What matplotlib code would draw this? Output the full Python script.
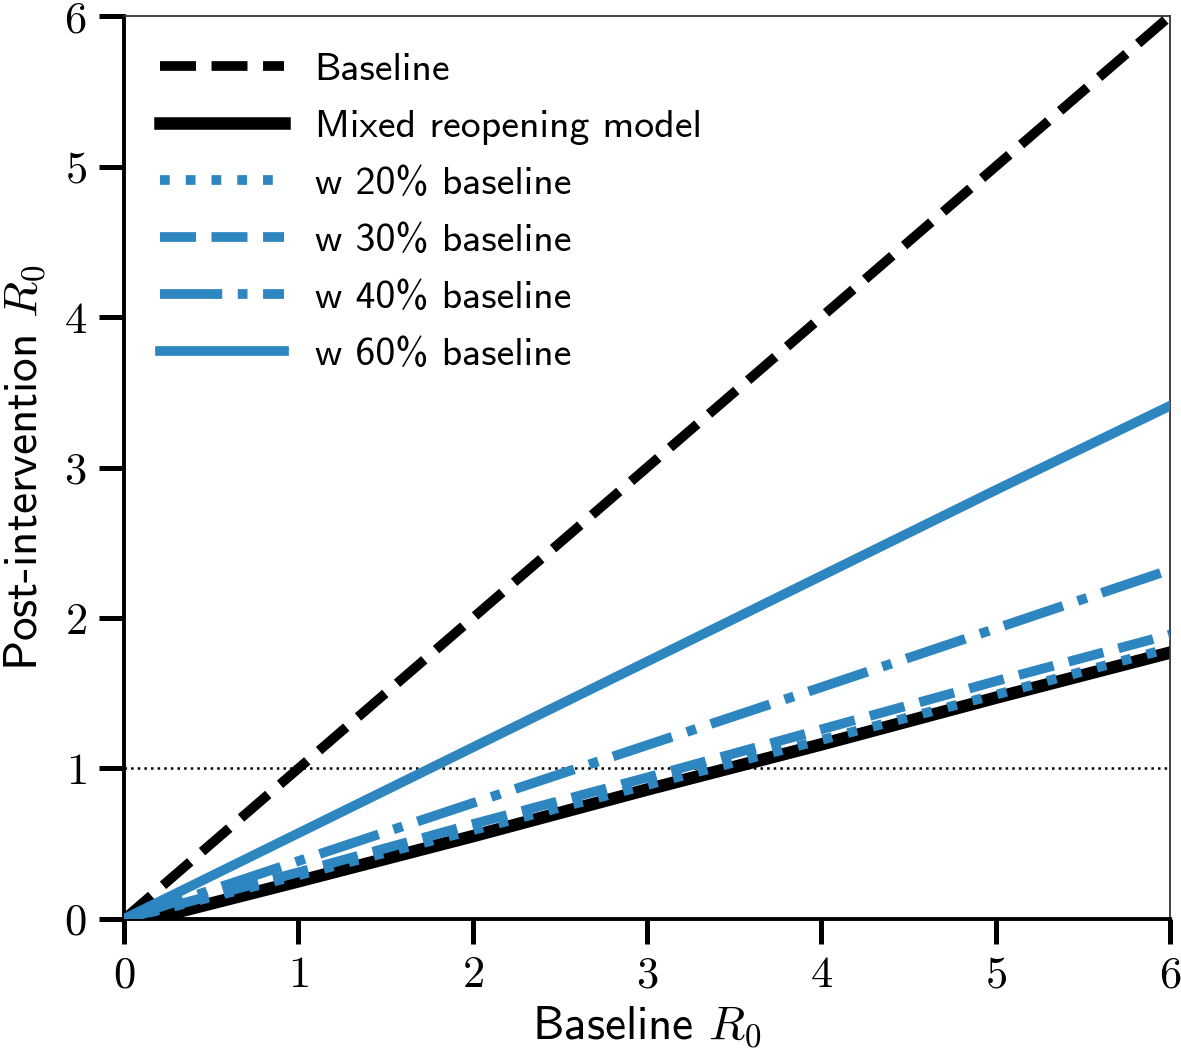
import matplotlib
matplotlib.use("Agg")
import matplotlib.pyplot as plt

matplotlib.rcParams["font.family"] = ["cmss10", "DejaVu Sans"]
matplotlib.rcParams["mathtext.fontset"] = "cm"
matplotlib.rcParams["axes.unicode_minus"] = False

# values (baseline R0 -> post-intervention R0)
r0 = [0, 1, 2, 3, 4, 5, 6]
baseline = [0, 1, 2, 3, 4, 5, 6]
mixed_x = [0, 0.15, 1, 2, 3, 4, 5, 6]
mixed = [0, 0, 0.25, 0.55, 0.86, 1.16, 1.47, 1.77]
w20 = [0, 0.29, 0.59, 0.89, 1.19, 1.49, 1.80]
w30 = [0, 0.31, 0.63, 0.94, 1.26, 1.58, 1.89]
w40 = [0, 0.385, 0.77, 1.155, 1.54, 1.93, 2.32]
w60 = [0, 0.57, 1.14, 1.71, 2.28, 2.85, 3.41]

ticks = [0, 1, 2, 3, 4, 5, 6]
blue = "#2e86c1"

fig = plt.figure(figsize=(11.81, 10.48), dpi=100)
ax = fig.add_axes([0.105, 0.1231, 0.8857, 0.8616])

ax.axhline(1, color="k", ls=":", lw=1.8, zorder=1)
ax.plot(r0, baseline, "k--", lw=7, label="Baseline", zorder=3)
ax.plot(mixed_x, mixed, "k-", lw=9, label="Mixed reopening model", zorder=2)
ax.plot(r0, w20, ":", color=blue, lw=7, label="w 20% baseline", zorder=4)
ax.plot(r0, w30, "--", color=blue, lw=7, label="w 30% baseline", zorder=4)
ax.plot(r0, w40, "-.", color=blue, lw=7, label="w 40% baseline", zorder=4)
ax.plot(r0, w60, "-", color=blue, lw=7, label="w 60% baseline", zorder=4)

ax.set_xlim(0, 6)
ax.set_ylim(0, 6)
ax.set_xticks(ticks)
ax.set_yticks(ticks)
ax.set_xticklabels(["$%d$" % t for t in ticks], fontsize=32)
ax.set_yticklabels(["$%d$" % t for t in ticks], fontsize=32)
ax.tick_params(length=18, width=3.6, direction="out", top=False, right=False)
ax.tick_params(axis="y", pad=9)
ax.tick_params(axis="x", pad=8)

for s in ["left", "bottom"]:
    ax.spines[s].set_linewidth(2.8)
    ax.spines[s].set_color("k")
for s in ["top", "right"]:
    ax.spines[s].set_linewidth(1.3)
    ax.spines[s].set_color("#333333")

ax.set_xlabel("Baseline $R_0$", fontsize=34, labelpad=6)
ax.set_ylabel("Post-intervention $R_0$", fontsize=34, labelpad=12)

ax.legend(loc="upper left", frameon=False, fontsize=28.7, handlelength=3.12,
          handletextpad=0.76, labelspacing=0.53)

fig.savefig("out.png", dpi=100)
